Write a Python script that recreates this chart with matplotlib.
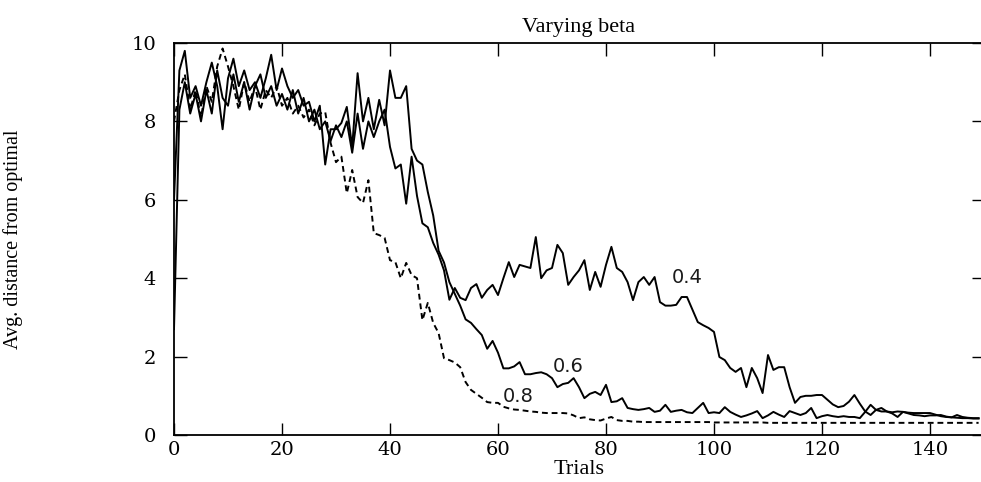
import matplotlib
matplotlib.use("Agg")
import matplotlib.pyplot as plt
import numpy as np

# trials 0..149
trials = np.arange(150)

# beta = 0.4 (solid, plateau around 4 before converging)
beta_04 = [
    2.7, 8.3, 9.0, 8.2, 8.7, 8.0, 8.8, 8.2, 9.3, 8.6,
    8.4, 9.2, 8.5, 9.0, 8.3, 8.9, 9.2, 8.6, 8.9, 8.4,
    8.7, 8.3, 8.8, 8.2, 8.6, 8.0, 8.3, 7.8, 8.0, 7.5,
    7.9, 7.6, 8.0, 7.2, 8.2, 7.3, 8.0, 7.6, 8.0, 8.3,
    7.35, 6.8, 6.9, 5.9, 7.1, 6.1, 5.4, 5.3, 4.9, 4.6,
    4.2, 3.45, 3.75, 3.5, 3.44, 3.75, 3.85, 3.5, 3.7, 3.83,
    3.57, 4.0, 4.41, 4.03, 4.34, 4.3, 4.26, 5.05, 4.0, 4.2,
    4.26, 4.85, 4.64, 3.83, 4.03, 4.2, 4.46, 3.7, 4.16, 3.78,
    4.34, 4.8, 4.26, 4.16, 3.9, 3.44, 3.9, 4.03, 3.83, 4.03,
    3.39, 3.3, 3.3, 3.32, 3.52, 3.52, 3.2, 2.88, 2.8, 2.73,
    2.63, 1.99, 1.91, 1.71, 1.61, 1.71, 1.22, 1.71, 1.45, 1.07,
    2.04, 1.66, 1.73, 1.73, 1.22, 0.82, 0.97, 1.0, 1.0, 1.02,
    1.02, 0.9, 0.78, 0.71, 0.74, 0.85, 1.02, 0.8, 0.6, 0.51,
    0.64, 0.6, 0.6, 0.58, 0.6, 0.59, 0.57, 0.56, 0.56, 0.56,
    0.56, 0.52, 0.48, 0.46, 0.45, 0.44, 0.43, 0.43, 0.42, 0.42,
]

# beta = 0.6 (solid)
beta_06 = [
    6.0, 9.3, 9.8, 8.6, 8.9, 8.4, 9.0, 9.5, 8.9, 7.8,
    9.1, 9.6, 8.9, 9.3, 8.8, 9.0, 8.6, 9.1, 9.7, 8.8,
    9.35, 8.9, 8.6, 8.8, 8.4, 8.5, 8.0, 8.4, 6.9, 7.8,
    7.8, 7.96, 8.37, 7.35, 9.23, 8.0, 8.6, 7.8, 8.55, 7.9,
    9.3, 8.6, 8.6, 8.9, 7.3, 7.0, 6.9, 6.2, 5.6, 4.7,
    4.4, 3.9, 3.6, 3.3, 2.95, 2.86, 2.7, 2.55, 2.2, 2.4,
    2.1, 1.7, 1.7, 1.75, 1.86, 1.55, 1.55, 1.58, 1.6, 1.55,
    1.45, 1.22, 1.3, 1.33, 1.45, 1.22, 0.94, 1.05, 1.1, 1.02,
    1.28, 0.84, 0.86, 0.94, 0.69, 0.66, 0.64, 0.66, 0.69, 0.59,
    0.62, 0.77, 0.59, 0.62, 0.64, 0.58, 0.56, 0.69, 0.82, 0.56,
    0.58, 0.56, 0.71, 0.59, 0.52, 0.46, 0.5, 0.55, 0.61, 0.43,
    0.5, 0.59, 0.52, 0.46, 0.61, 0.56, 0.51, 0.56, 0.69, 0.43,
    0.48, 0.51, 0.48, 0.46, 0.48, 0.46, 0.46, 0.43, 0.59, 0.77,
    0.64, 0.69, 0.6, 0.55, 0.46, 0.59, 0.55, 0.51, 0.5, 0.48,
    0.5, 0.5, 0.51, 0.47, 0.45, 0.51, 0.46, 0.44, 0.43, 0.43,
]

# beta = 0.8 (dashed)
beta_08 = [
    8.0, 8.8, 9.2, 8.3, 8.8, 8.1, 8.9, 8.5, 9.4, 9.86,
    9.4, 8.9, 8.3, 9.0, 8.5, 8.9, 8.3, 8.8, 8.6, 8.9,
    8.4, 8.6, 8.2, 8.4, 8.1, 8.3, 7.9, 8.2, 8.24, 7.45,
    6.96, 7.1, 6.17, 6.76, 6.07, 5.92, 6.5, 5.15, 5.1, 5.03,
    4.46, 4.41, 4.0, 4.39, 4.08, 4.0, 2.93, 3.37, 2.86, 2.6,
    1.96, 1.91, 1.85, 1.73, 1.35, 1.15, 1.05, 0.95, 0.84, 0.82,
    0.82, 0.72, 0.68, 0.65, 0.64, 0.62, 0.6, 0.59, 0.57, 0.56,
    0.56, 0.56, 0.56, 0.55, 0.5, 0.43, 0.45, 0.4, 0.38, 0.37,
    0.42, 0.46, 0.38, 0.36, 0.36, 0.34, 0.34, 0.33, 0.33, 0.33,
    0.33, 0.33, 0.33, 0.33, 0.33, 0.33, 0.33, 0.33, 0.33, 0.33,
    0.32, 0.32, 0.32, 0.32, 0.32, 0.32, 0.32, 0.32, 0.32, 0.32,
    0.31, 0.31, 0.31, 0.31, 0.31, 0.31, 0.31, 0.31, 0.31, 0.31,
    0.31, 0.31, 0.31, 0.31, 0.31, 0.31, 0.31, 0.31, 0.31, 0.31,
    0.31, 0.31, 0.31, 0.31, 0.31, 0.31, 0.31, 0.31, 0.31, 0.31,
    0.31, 0.31, 0.31, 0.31, 0.31, 0.31, 0.31, 0.31, 0.31, 0.31,
]

# curve labels: text, x, y
curve_labels = [("0.4", 95.0, 4.03), ("0.6", 73.0, 1.76), ("0.8", 63.7, 0.99)]

fig = plt.figure(figsize=(9.81, 4.82), dpi=100)
# axes runs slightly past the right edge, like the cropped original
ax = fig.add_axes([174 / 981, 47 / 482, 810 / 981, 392 / 482])

ax.plot(trials, beta_04, color="black", lw=1.4)
ax.plot(trials, beta_06, color="black", lw=1.4)
ax.plot(trials, beta_08, color="black", lw=1.4, linestyle=(0, (3, 2)))

for text, x, y in curve_labels:
    ax.text(x, y, text, fontsize=14, family="DejaVu Sans", color="#1a1a1a",
            ha="center", va="center")

ax.set_xlim(0, 150)
ax.set_ylim(0, 10)
ax.set_xticks(range(0, 141, 20))
ax.set_yticks(range(0, 11, 2))

for spine in ax.spines.values():
    spine.set_linewidth(1.3)

ax.tick_params(axis="both", direction="in", length=9, width=1,
               top=True, right=True, labelsize=14)
ax.tick_params(axis="x", pad=4)
ax.tick_params(axis="y", pad=13)
for lbl in ax.get_xticklabels() + ax.get_yticklabels():
    lbl.set_family("DejaVu Serif")

ax.set_title("Varying beta", family="Liberation Serif", fontsize=16, pad=8)
ax.set_xlabel("Trials", family="Liberation Serif", fontsize=16, labelpad=1)
ax.set_ylabel("Avg. distance from optimal", family="Liberation Serif", fontsize=14.5)
ax.yaxis.set_label_coords(-0.186, 0.5)

fig.savefig("out.png", dpi=100)
